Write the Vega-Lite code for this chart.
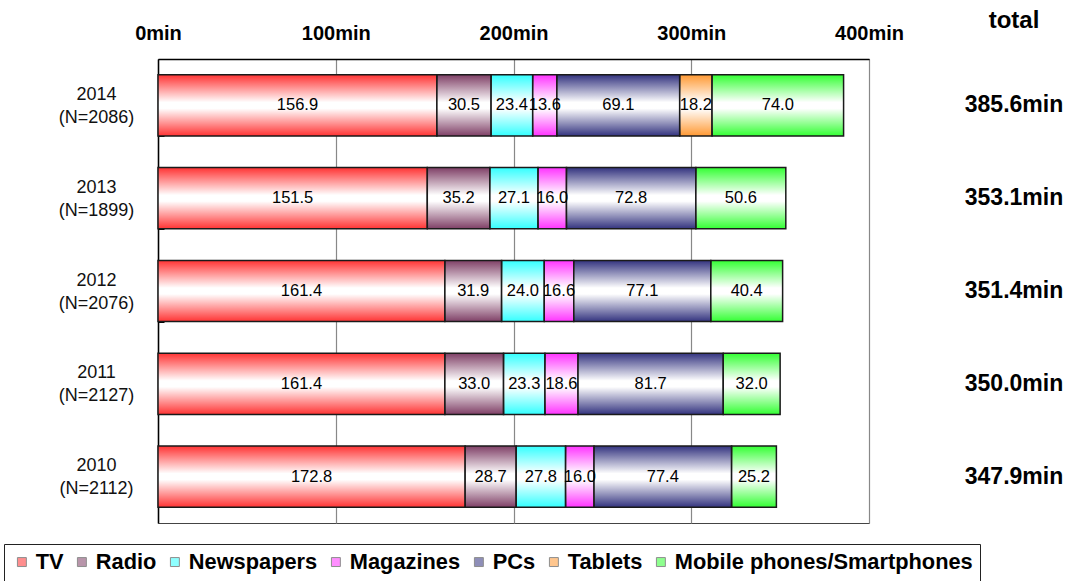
{
  "$schema": "https://vega.github.io/schema/vega-lite/v6.json",
  "padding": {"left": 3, "top": 0, "right": 0, "bottom": 0},
  "background": "white",
  "config": {
    "font": "Liberation Sans",
    "concat": {"spacing": 50},
    "view": {"stroke": null}
  },
  "datasets": {
    "usage": [
      {"year": "2014\n(N=2086)", "media": "TV", "k": 1, "minutes": 156.9},
      {"year": "2014\n(N=2086)", "media": "Radio", "k": 2, "minutes": 30.5},
      {"year": "2014\n(N=2086)", "media": "Newspapers", "k": 3, "minutes": 23.4},
      {"year": "2014\n(N=2086)", "media": "Magazines", "k": 4, "minutes": 13.6},
      {"year": "2014\n(N=2086)", "media": "PCs", "k": 5, "minutes": 69.1},
      {"year": "2014\n(N=2086)", "media": "Tablets", "k": 6, "minutes": 18.2},
      {"year": "2014\n(N=2086)", "media": "Mobile phones/Smartphones", "k": 7, "minutes": 74.0},
      {"year": "2013\n(N=1899)", "media": "TV", "k": 1, "minutes": 151.5},
      {"year": "2013\n(N=1899)", "media": "Radio", "k": 2, "minutes": 35.2},
      {"year": "2013\n(N=1899)", "media": "Newspapers", "k": 3, "minutes": 27.1},
      {"year": "2013\n(N=1899)", "media": "Magazines", "k": 4, "minutes": 16.0},
      {"year": "2013\n(N=1899)", "media": "PCs", "k": 5, "minutes": 72.8},
      {"year": "2013\n(N=1899)", "media": "Mobile phones/Smartphones", "k": 7, "minutes": 50.6},
      {"year": "2012\n(N=2076)", "media": "TV", "k": 1, "minutes": 161.4},
      {"year": "2012\n(N=2076)", "media": "Radio", "k": 2, "minutes": 31.9},
      {"year": "2012\n(N=2076)", "media": "Newspapers", "k": 3, "minutes": 24.0},
      {"year": "2012\n(N=2076)", "media": "Magazines", "k": 4, "minutes": 16.6},
      {"year": "2012\n(N=2076)", "media": "PCs", "k": 5, "minutes": 77.1},
      {"year": "2012\n(N=2076)", "media": "Mobile phones/Smartphones", "k": 7, "minutes": 40.4},
      {"year": "2011\n(N=2127)", "media": "TV", "k": 1, "minutes": 161.4},
      {"year": "2011\n(N=2127)", "media": "Radio", "k": 2, "minutes": 33.0},
      {"year": "2011\n(N=2127)", "media": "Newspapers", "k": 3, "minutes": 23.3},
      {"year": "2011\n(N=2127)", "media": "Magazines", "k": 4, "minutes": 18.6},
      {"year": "2011\n(N=2127)", "media": "PCs", "k": 5, "minutes": 81.7},
      {"year": "2011\n(N=2127)", "media": "Mobile phones/Smartphones", "k": 7, "minutes": 32.0},
      {"year": "2010\n(N=2112)", "media": "TV", "k": 1, "minutes": 172.8},
      {"year": "2010\n(N=2112)", "media": "Radio", "k": 2, "minutes": 28.7},
      {"year": "2010\n(N=2112)", "media": "Newspapers", "k": 3, "minutes": 27.8},
      {"year": "2010\n(N=2112)", "media": "Magazines", "k": 4, "minutes": 16.0},
      {"year": "2010\n(N=2112)", "media": "PCs", "k": 5, "minutes": 77.4},
      {"year": "2010\n(N=2112)", "media": "Mobile phones/Smartphones", "k": 7, "minutes": 25.2}
    ],
    "totals": [
      {"year": "2014\n(N=2086)", "total": 385.6},
      {"year": "2013\n(N=1899)", "total": 353.1},
      {"year": "2012\n(N=2076)", "total": 351.4},
      {"year": "2011\n(N=2127)", "total": 350.0},
      {"year": "2010\n(N=2112)", "total": 347.9}
    ]
  },
  "hconcat": [
    {
      "width": 711,
      "height": 464,
      "view": {"stroke": "#444", "strokeWidth": 1},
      "data": {"name": "usage"},
      "transform": [
        {"stack": "minutes", "groupby": ["year"], "sort": [{"field": "k", "order": "ascending"}], "as": ["x0", "x1"]},
        {"calculate": "(datum.x0 + datum.x1) / 2", "as": "mid"}
      ],
      "encoding": {
        "y": {
          "field": "year",
          "type": "nominal",
          "sort": null,
          "title": null,
          "scale": {"paddingInner": 0.34, "paddingOuter": 0.17},
          "axis": {
            "labelExpr": "split(datum.label, '\\n')",
            "labelFont": "Liberation Sans",
            "labelFontSize": 18,
            "labelColor": "#111",
            "labelAlign": "center",
            "labelBaseline": "middle",
            "labelLineHeight": 23,
            "labelOffset": -11,
            "labelPadding": 68,
            "tickBand": "extent",
            "ticks": true,
            "tickSize": -6,
            "tickColor": "#000",
            "domainColor": "#000",
            "domainWidth": 1.5,
            "minExtent": 154,
            "maxExtent": 154
          }
        }
      },
      "layer": [
        {
          "mark": {"type": "bar"},
          "encoding": {
            "x": {
              "field": "x0",
              "type": "quantitative",
              "title": null,
              "scale": {"domain": [0, 400], "nice": false},
              "axis": {
                "orient": "top",
                "values": [0, 100, 200, 300, 400],
                "labelExpr": "datum.value + 'min'",
                "labelFontSize": 20,
                "labelFontWeight": "bold",
                "labelColor": "#000",
                "labelPadding": 16,
                "ticks": false,
                "tickSize": 0,
                "grid": true,
                "gridColor": "#888",
                "gridWidth": 1.2,
                "domainColor": "#000",
                "domainWidth": 1.5,
                "labelFlush": false,
                "minExtent": 58,
                "maxExtent": 58
              }
            },
            "x2": {"field": "x1"},
            "color": {
              "field": "media",
              "type": "nominal",
              "scale": {
                "domain": ["TV", "Radio", "Newspapers", "Magazines", "PCs", "Tablets", "Mobile phones/Smartphones"],
                "range": ["#ff3333", "#7f3f66", "#33ffff", "#ff33ff", "#33337f", "#ff9933", "#33ff33"]
              },
              "legend": {
                "title": null,
                "orient": "none",
                "legendX": -154,
                "legendY": 485,
                "direction": "horizontal",
                "strokeColor": "#222",
                "padding": 7,
                "symbolType": "square",
                "symbolSize": 80,
                "symbolStrokeColor": "#333",
                "symbolStrokeWidth": 1,
                "symbolOpacity": 0.55,
                "labelFont": "Liberation Sans",
                "labelFontSize": 21.8,
                "labelFontWeight": "bold",
                "labelColor": "#000",
                "labelOffset": 3,
                "columnPadding": 7,
                "labelLimit": 400
              }
            }
          }
        },
        {
          "mark": {
            "type": "bar",
            "stroke": "#1a1a1a",
            "strokeWidth": 1.5,
            "fill": {
              "gradient": "linear",
              "x1": 0, "y1": 0, "x2": 0, "y2": 1,
              "stops": [
                {"offset": 0, "color": "rgba(255,255,255,0)"},
                {"offset": 0.45, "color": "rgba(255,255,255,1)"},
                {"offset": 0.55, "color": "rgba(255,255,255,1)"},
                {"offset": 1, "color": "rgba(255,255,255,0)"}
              ]
            }
          },
          "encoding": {
            "x": {"field": "x0", "type": "quantitative"},
            "x2": {"field": "x1"}
          }
        },
        {
          "mark": {"type": "text", "fontSize": 16.5, "color": "#000"},
          "encoding": {
            "x": {"field": "mid", "type": "quantitative"},
            "text": {"field": "minutes", "type": "quantitative", "format": ".1f"}
          }
        }
      ]
    },
    {
      "width": 120,
      "height": 464,
      "data": {"name": "totals"},
      "transform": [
        {"calculate": "format(datum.total, '.1f') + 'min'", "as": "label"}
      ],
      "title": {
        "text": "total",
        "fontSize": 24,
        "fontWeight": "bold",
        "color": "#000",
        "anchor": "middle",
        "offset": 26
      },
      "mark": {"type": "text", "fontSize": 23, "fontWeight": "bold", "color": "#000"},
      "encoding": {
        "y": {
          "field": "year",
          "type": "nominal",
          "sort": null,
          "axis": null,
          "scale": {"paddingInner": 0.34, "paddingOuter": 0.17}
        },
        "text": {"field": "label", "type": "nominal"}
      }
    }
  ]
}
